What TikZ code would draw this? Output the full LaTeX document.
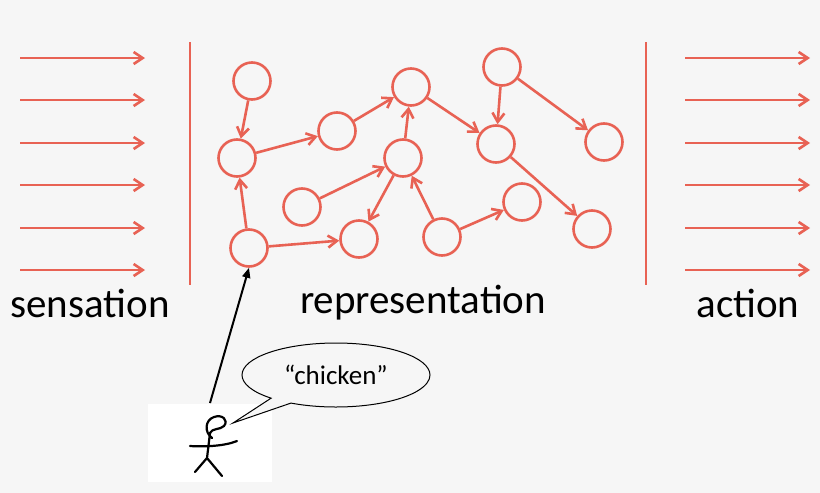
\documentclass[tikz,border=0pt]{standalone}
\usepackage{fontspec}
\setmainfont{Carlito}
\usetikzlibrary{arrows.meta,shapes.callouts}
\definecolor{salmon}{RGB}{232,98,84}
\definecolor{bg}{RGB}{246,246,246}

\begin{document}
\begin{tikzpicture}
	[x=1pt,y=-1pt,
	rep node/.style={shape=circle,draw=salmon,line width=2.6pt,minimum size=37pt,inner sep=0pt},
	rep edge/.style={draw=salmon,line width=2.6pt,-{Straight Barb[length=9pt,width=12pt]}},
	label text/.style={font=\fontsize{41}{48}\selectfont}]
	\fill [bg] (0,0) rectangle (820,493);
	
	% sensation and action inputs
	\foreach \y in {58,100,143,185,228,270} {
		\coordinate (sl) at (20,\y); \coordinate (sr) at (145,\y);
		\coordinate (al) at (685,\y); \coordinate (ar) at (810,\y);
		\draw [rep edge] (sl) -- (sr);
		\draw [rep edge] (al) -- (ar);
	}
	\coordinate (b1) at (190,42); \coordinate (b2) at (190,285);
	\coordinate (b3) at (646,42); \coordinate (b4) at (646,285);
	\draw [salmon,line width=2.6pt] (b1) -- (b2) (b3) -- (b4);
	
	% representation graph
	\node [rep node] (1) at (252,81) {};
	\node [rep node] (2) at (237,158) {};
	\node [rep node] (3) at (337,131) {};
	\node [rep node] (4) at (411,87) {};
	\node [rep node] (5) at (502,67) {};
	\node [rep node] (6) at (403,158) {};
	\node [rep node] (7) at (496,144) {};
	\node [rep node] (8) at (604,142) {};
	\node [rep node] (9) at (302,207) {};
	\node [rep node] (10) at (249,248) {};
	\node [rep node] (11) at (359,239) {};
	\node [rep node] (12) at (442,237) {};
	\node [rep node] (13) at (522,202) {};
	\node [rep node] (14) at (592,229) {};
	
	\path [rep edge]
	(1) edge (2)
	(2) edge (3)
	(3) edge (4)
	(10) edge (2)
	(10) edge (11)
	(9) edge (6)
	(6) edge (4)
	(6) edge (11)
	(12) edge (6)
	(12) edge (13)
	(4) edge (7)
	(5) edge (7)
	(5) edge (8)
	(7) edge (14)
	;
	
	\node [label text] (sens) at (90,303) {sensation};
	\node [label text] (repr) at (423,303) {representation};
	\node [label text] (act) at (748,303) {action};
	
	% person naming a node
	\fill [white] (148,404) rectangle (272,482);
	\coordinate (hand) at (210,403);
	\draw [line width=2pt,-{Triangle[length=10pt,width=8pt]}] (hand) -- (10.south);
	\node [ellipse callout,draw,line width=1pt,fill=bg,minimum width=188pt,minimum height=64pt,
		callout absolute pointer={(233,423)},font=\fontsize{27}{32}\selectfont] (say) at (336,375) {“chicken”};
	\draw [line width=2.2pt,line cap=round,line join=round]
		(212,438) .. controls (204,432) and (205,420) .. (214,417)
		.. controls (222,414) and (229,420) .. (224,426)
		.. controls (220,430) and (212,428) .. (210,433)
		(210,433) -- (207,458)
		(190,446) .. controls (205,447) and (225,446) .. (237,441)
		(195,472) -- (207,458) -- (222,476);
\end{tikzpicture}
\end{document}
